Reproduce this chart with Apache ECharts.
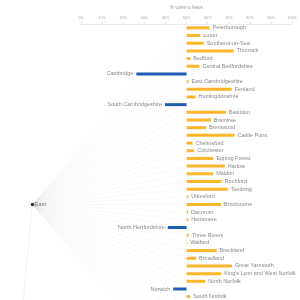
<!DOCTYPE html>
<html>
<head>
<meta charset="utf-8">
<script src="https://cdn.jsdelivr.net/npm/echarts@6/dist/echarts.min.js"></script>
<style>
  html, body { margin: 0; padding: 0; overflow: hidden; background: #fff; }
  #chart { width: 300px; height: 400px; }
</style>
</head>
<body>
<div id="chart"></div>
<script>
// counting areas of the East region, in tree order (last ones fall below the view)
const districts = [
  'Peterborough', 'Luton', 'Southend-on-Sea', 'Thurrock', 'Bedford', 'Central Bedfordshire',
  'Cambridge', 'East Cambridgeshire', 'Fenland', 'Huntingdonshire', 'South Cambridgeshire',
  'Basildon', 'Braintree', 'Brentwood', 'Castle Point', 'Chelmsford', 'Colchester',
  'Epping Forest', 'Harlow', 'Maldon', 'Rochford', 'Tendring', 'Uttlesford',
  'Broxbourne', 'Dacorum', 'Hertsmere', 'North Hertfordshire', 'Three Rivers', 'Watford',
  'Breckland', 'Broadland', 'Great Yarmouth', "King's Lynn and West Norfolk", 'North Norfolk',
  'Norwich', 'South Norfolk',
  'Babergh', 'Forest Heath', 'Ipswich', 'Mid Suffolk', 'St Edmundsbury', 'Suffolk Coastal',
  'Waveney', 'East Hertfordshire', 'St Albans', 'Stevenage', 'Welwyn Hatfield'
];
// % votes to leave
const leavePct = [
  60.9, 56.5, 58.1, 72.3, 51.8, 56.1,
  26.2, 50.9, 71.4, 54.2, 39.8,
  68.6, 61.5, 59.2, 72.7, 52.8, 53.6,
  62.7, 68.1, 62.6, 66.6, 69.5, 50.8,
  66.3, 50.7, 50.8, 41.1, 51.0, 50.3,
  64.2, 54.5, 71.5, 66.4, 58.9,
  43.7, 51.7,
  54.2, 65.0, 58.3, 56.5, 53.6, 53.7,
  63.0, 49.2, 37.3, 58.7, 52.6
];
const regionName = 'East';
const xTickLabels = ['0%', '10%', '20%', '30%', '40%', '50%', '60%', '70%', '80%', '90%', '100%'];

// tree node places, in axis units (pct on x, row on y)
const splitPct = 50;
const regionPct = -23;
const regionRow = (districts.length - 1) / 2;
const rootPct = -31;
const rootRow = districts.length - 1;

const LEAVE = '#FDB52B';
const REMAIN = '#1D5DB4';
const FONT = '"Liberation Sans", Arial, sans-serif';

const rows = districts.map((d, i) => [leavePct[i], i]);

const chart = echarts.init(document.getElementById('chart'));
chart.setOption({
  animation: false,
  grid: { left: 81, right: 6.5, top: 21, height: 364 },
  xAxis: {
    type: 'value',
    position: 'top',
    min: 0,
    max: 100,
    interval: 10,
    name: '% votes to leave',
    nameLocation: 'middle',
    nameGap: 14,
    nameTextStyle: { fontSize: 4.5, color: '#999', fontFamily: FONT },
    axisLine: { show: true, lineStyle: { color: '#ddd', width: 0.6 } },
    axisTick: { show: true, length: 2, lineStyle: { color: '#ccc', width: 0.5 } },
    axisLabel: {
      fontSize: 3.8, color: '#aaa', margin: 4, fontFamily: FONT,
      formatter: (v) => xTickLabels[Math.round(v / 10)]
    },
    splitLine: { show: false }
  },
  yAxis: { type: 'category', data: districts, inverse: true, show: false },
  series: [
    {
      // links from region node to each district
      type: 'custom',
      silent: true,
      z: 1,
      data: rows,
      renderItem(params, api) {
        const from = api.coord([regionPct, regionRow]);
        const to = api.coord([splitPct, api.value(1)]);
        return {
          type: 'line',
          shape: { x1: from[0], y1: from[1], x2: to[0], y2: to[1] },
          style: { stroke: 'rgba(0,0,0,0.055)', lineWidth: 0.5 }
        };
      }
    },
    {
      // region node + its link to the root
      type: 'custom',
      silent: true,
      z: 2,
      data: [[regionPct, regionRow]],
      renderItem(params, api) {
        const p = api.coord([api.value(0), api.value(1)]);
        const r = api.coord([rootPct, rootRow]);
        return {
          type: 'group',
          children: [
            { type: 'line', shape: { x1: p[0], y1: p[1], x2: r[0], y2: r[1] },
              style: { stroke: 'rgba(0,0,0,0.1)', lineWidth: 0.6 } },
            { type: 'circle', shape: { cx: p[0], cy: p[1], r: 1.7 }, style: { fill: '#333' } },
            { type: 'text', style: { text: regionName, x: p[0] + 2.5, y: p[1], verticalAlign: 'middle',
              fontSize: 5.5, fontFamily: FONT, fill: '#777' } }
          ]
        };
      }
    },
    {
      // diverging bars around 50%
      type: 'custom',
      z: 3,
      data: rows,
      renderItem(params, api) {
        const v = api.value(0);
        const i = api.value(1);
        const mid = api.coord([splitPct, i]);
        const end = api.coord([v, i]);
        const leave = v >= splitPct;
        const h = 3;
        return {
          type: 'group',
          children: [
            { type: 'rect',
              shape: { x: Math.min(mid[0], end[0]), y: mid[1] - h / 2,
                       width: Math.max(Math.abs(end[0] - mid[0]), 0.8), height: h },
              style: { fill: leave ? LEAVE : REMAIN } },
            { type: 'text',
              style: { text: districts[i], x: leave ? end[0] + 3 : end[0] - 3, y: mid[1],
                       align: leave ? 'left' : 'right', verticalAlign: 'middle',
                       fontSize: 5.5, fontFamily: FONT, fill: '#888' } }
          ]
        };
      }
    }
  ]
});
</script>
</body>
</html>
